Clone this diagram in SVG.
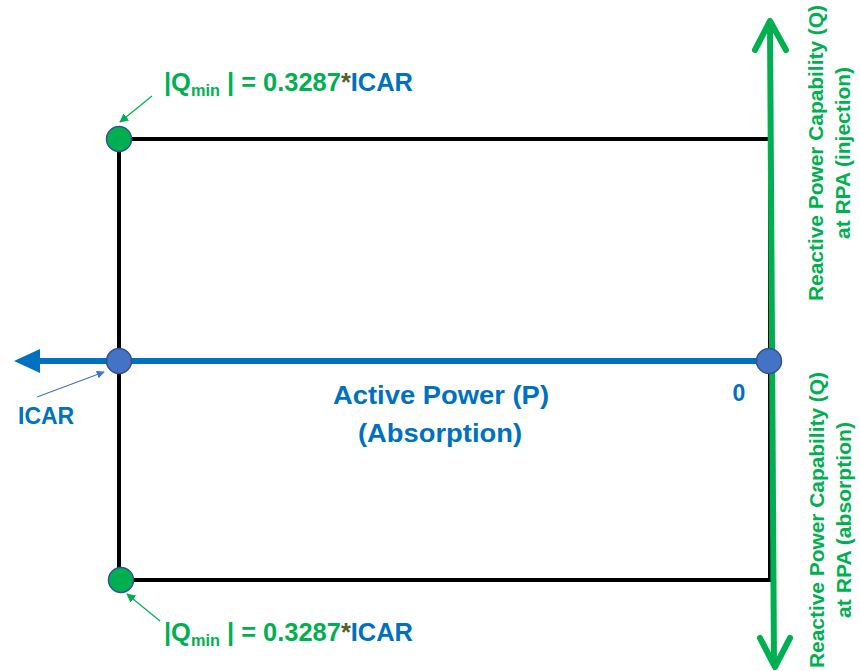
<svg xmlns="http://www.w3.org/2000/svg" width="860" height="671" viewBox="0 0 860 671">
<style>
.t{font-family:"Liberation Sans",Arial,sans-serif;font-weight:bold}
.g{fill:#00B050}
.b{fill:#0070C0}
.o{fill:#4F6228}
</style>
<defs>
<marker id="ab" viewBox="0 0 10 10" refX="9" refY="5" markerWidth="8" markerHeight="8" markerUnits="userSpaceOnUse" orient="auto"><path d="M0,0 L10,5 L0,10 z" fill="#4472C4"/></marker>
<marker id="ag" viewBox="0 0 10 10" refX="9" refY="5" markerWidth="9" markerHeight="9" markerUnits="userSpaceOnUse" orient="auto"><path d="M0,0 L10,5 L0,10 z" fill="#00B050"/></marker>
</defs>
<rect width="860" height="671" fill="#fff"/>
<g id="connectors">
<rect x="119" y="139" width="651" height="441" fill="none" stroke="#000" stroke-width="4"/>
<line x1="34" y1="361" x2="770" y2="361" stroke="#0070C0" stroke-width="6"/>
<path d="M14,361 L40,349 L40,373 z" fill="#0070C0"/>
<line x1="770" y1="24" x2="774" y2="664" stroke="#00B050" stroke-width="6"/>
<path d="M755,50 L770,21 L786,50" fill="none" stroke="#00B050" stroke-width="6" stroke-linecap="round" stroke-linejoin="round"/>
<path d="M760,638 L775,667 L790,638" fill="none" stroke="#00B050" stroke-width="6" stroke-linecap="round" stroke-linejoin="round"/>
<line x1="152" y1="96" x2="120" y2="122" stroke="#00B050" stroke-width="1.2" marker-end="url(#ag)"/>
<line x1="160" y1="621" x2="127" y2="594" stroke="#00B050" stroke-width="1.2" marker-end="url(#ag)"/>
<line x1="37" y1="397" x2="104" y2="372" stroke="#4472C4" stroke-width="1.2" marker-end="url(#ab)"/>
</g>
<g id="node-qmin-top"><circle cx="119" cy="139" r="12.5" fill="#00B050" stroke="#2F528F" stroke-width="1.5"/></g>
<g id="node-qmin-bottom"><circle cx="121" cy="580" r="12.5" fill="#00B050" stroke="#2F528F" stroke-width="1.5"/></g>
<g id="node-icar"><circle cx="119" cy="361" r="12.5" fill="#4472C4" stroke="#2F528F" stroke-width="1.5"/></g>
<g id="node-zero"><circle cx="769" cy="361" r="12.5" fill="#4472C4" stroke="#2F528F" stroke-width="1.5"/></g>
<g id="label-top">
<text class="t g" x="164" y="91" font-size="25" textLength="249" lengthAdjust="spacingAndGlyphs">|Q<tspan font-size="16" dy="5">min</tspan><tspan dy="-5"> | = 0.3287</tspan><tspan class="o">*</tspan><tspan class="b">ICAR</tspan></text>
</g>
<g id="label-bottom">
<text class="t g" x="164" y="641" font-size="25" textLength="249" lengthAdjust="spacingAndGlyphs">|Q<tspan font-size="16" dy="5">min</tspan><tspan dy="-5"> | = 0.3287</tspan><tspan class="o">*</tspan><tspan class="b">ICAR</tspan></text>
</g>
<g id="label-icar"><text class="t b" x="18" y="424" font-size="23">ICAR</text></g>
<g id="label-p">
<text class="t b" x="441" y="404" font-size="26" text-anchor="middle" textLength="216" lengthAdjust="spacingAndGlyphs">Active Power (P)</text>
<text class="t b" x="440" y="442" font-size="26" text-anchor="middle" textLength="164" lengthAdjust="spacingAndGlyphs">(Absorption)</text>
</g>
<g id="label-zero"><text class="t b" x="739" y="401" font-size="23" text-anchor="middle">0</text></g>
<g id="label-injection" transform="translate(0,153) rotate(-90)">
<text class="t g" x="0" y="823" font-size="21" text-anchor="middle" textLength="296" lengthAdjust="spacingAndGlyphs">Reactive Power Capability (Q)</text>
<text class="t g" x="0" y="850" font-size="21" text-anchor="middle" textLength="172" lengthAdjust="spacingAndGlyphs">at RPA (injection)</text>
</g>
<g id="label-absorption" transform="translate(0,520) rotate(-90)">
<text class="t g" x="0" y="824" font-size="21" text-anchor="middle" textLength="296" lengthAdjust="spacingAndGlyphs">Reactive Power Capability (Q)</text>
<text class="t g" x="0" y="851" font-size="21" text-anchor="middle" textLength="196" lengthAdjust="spacingAndGlyphs">at RPA (absorption)</text>
</g>
</svg>
